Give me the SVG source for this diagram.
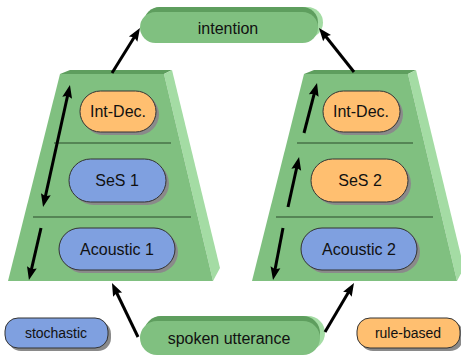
<svg xmlns="http://www.w3.org/2000/svg" width="461" height="358" viewBox="0 0 461 358">
<style>
.front{fill:#80c080}
.top{fill:#5e9e5e}
.side{fill:#a4dca4}
.sep{stroke:#2a4a2a;stroke-width:1}
.shadow{fill:#8a8a8a}
.orange{fill:#ffbf70;stroke:#333;stroke-width:1}
.blue{fill:#7fa0e0;stroke:#333;stroke-width:1}
.gpill{fill:#80c080}
.gback{fill:#5e9e5e}
.gside{fill:#a4dca4}
text{font-family:"Liberation Sans",Arial,sans-serif;fill:#111;text-anchor:middle}
.lbl{font-size:16px}
.leg{font-size:14px}
.conn line{stroke:#000;stroke-width:3;fill:none}
</style>
<defs>
<marker id="ah" viewBox="0 0 13 10" refX="3" refY="5" markerWidth="13" markerHeight="10" markerUnits="userSpaceOnUse" orient="auto-start-reverse" overflow="visible">
<path d="M0,0 L13,5 L0,10 L2,5 z" fill="#000"/>
</marker>
</defs>
<rect width="461" height="358" fill="#fff"/>

<g id="stack1">
<polygon class="top" points="60,74 70,70 172,70 164,74"/>
<polygon class="side" points="164,74 172,70 220,268 213,281"/>
<polygon class="front" points="60,74 164,74 213,281 8,281"/>
<line class="sep" x1="54" y1="143" x2="171" y2="143"/>
<line class="sep" x1="33" y1="217" x2="191" y2="217"/>
</g>
<g id="stack2">
<polygon class="top" points="304,74 314,70 416,70 408,74"/>
<polygon class="side" points="408,74 416,70 464,268 457,281"/>
<polygon class="front" points="304,74 408,74 457,281 252,281"/>
<line class="sep" x1="297" y1="143" x2="413" y2="143"/>
<line class="sep" x1="276" y1="217" x2="433" y2="217"/>
</g>

<g id="intdec1">
<rect class="shadow" x="83" y="94" width="76" height="41" rx="20.5"/>
<rect class="orange" x="80" y="91" width="76" height="41" rx="20.5"/>
<text class="lbl" x="118" y="117">Int-Dec.</text>
</g>
<g id="ses1">
<rect class="shadow" x="72" y="162" width="97" height="43" rx="21.5"/>
<rect class="blue" x="69" y="159" width="97" height="43" rx="21.5"/>
<text class="lbl" x="117" y="186">SeS 1</text>
</g>
<g id="acoustic1">
<rect class="shadow" x="62" y="231" width="116" height="42" rx="21"/>
<rect class="blue" x="59" y="228" width="116" height="42" rx="21"/>
<text class="lbl" x="117" y="255">Acoustic 1</text>
</g>

<g id="intdec2">
<rect class="shadow" x="326" y="94" width="77" height="41" rx="20.5"/>
<rect class="orange" x="323" y="91" width="77" height="41" rx="20.5"/>
<text class="lbl" x="361" y="117">Int-Dec.</text>
</g>
<g id="ses2">
<rect class="shadow" x="314" y="162" width="97" height="43" rx="21.5"/>
<rect class="orange" x="311" y="159" width="97" height="43" rx="21.5"/>
<text class="lbl" x="360" y="186">SeS 2</text>
</g>
<g id="acoustic2">
<rect class="shadow" x="304" y="231" width="116" height="42" rx="21"/>
<rect class="blue" x="301" y="228" width="116" height="42" rx="21"/>
<text class="lbl" x="359" y="255">Acoustic 2</text>
</g>

<g id="intention">
<rect class="gside" x="145" y="7" width="178" height="31" rx="15.5"/>
<rect class="gback" x="144" y="7" width="174" height="31" rx="15.5"/>
<rect class="gpill" x="140" y="12" width="178" height="31" rx="15.5"/>
<text class="lbl" x="228" y="34">intention</text>
</g>
<g id="spoken">
<rect class="gside" x="145" y="316" width="180" height="34" rx="17"/>
<rect class="gback" x="144" y="316" width="176" height="34" rx="17"/>
<rect class="gpill" x="140" y="321" width="180" height="34" rx="17"/>
<text class="lbl" x="229" y="344">spoken utterance</text>
</g>

<g id="stochastic">
<rect class="shadow" x="8" y="321" width="103" height="30" rx="13"/>
<rect class="blue" x="5" y="318" width="103" height="30" rx="13"/>
<text class="leg" x="56" y="338">stochastic</text>
</g>
<g id="rulebased">
<rect class="shadow" x="360" y="321" width="103" height="30" rx="13"/>
<rect class="orange" x="357" y="318" width="103" height="30" rx="13"/>
<text class="leg" x="408" y="338">rule-based</text>
</g>

<g id="connectors" class="conn">
<line x1="112" y1="73" x2="134.7" y2="36.5" marker-end="url(#ah)"/>
<line x1="354" y1="72" x2="325.2" y2="35.8" marker-end="url(#ah)"/>
<line x1="138" y1="337" x2="116.3" y2="292" marker-end="url(#ah)"/>
<line x1="325" y1="332" x2="348.9" y2="291.6" marker-end="url(#ah)"/>
<line x1="45.2" y1="197.2" x2="67.8" y2="94.8" marker-start="url(#ah)" marker-end="url(#ah)"/>
<line x1="41" y1="228" x2="31.2" y2="270.3" marker-end="url(#ah)"/>
<line x1="304" y1="133" x2="314.5" y2="92.7" marker-end="url(#ah)"/>
<line x1="288" y1="207" x2="296.9" y2="166.8" marker-end="url(#ah)"/>
<line x1="283" y1="228" x2="274.9" y2="270.2" marker-end="url(#ah)"/>
</g>
</svg>
